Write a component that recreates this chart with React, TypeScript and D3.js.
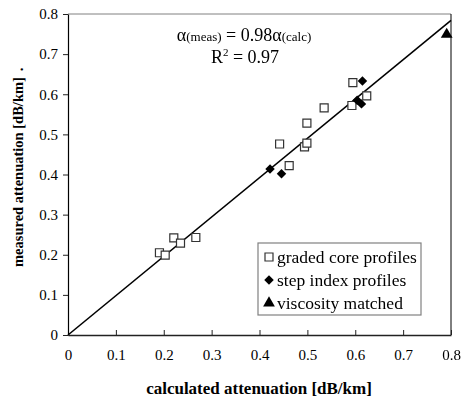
import React, { useEffect, useRef } from "react";
import * as d3 from "d3";

// graded core profiles [calculated, measured]
const gradedX = [0.191, 0.203, 0.221, 0.235, 0.267, 0.442, 0.462, 0.494, 0.499, 0.499, 0.535, 0.595, 0.593, 0.624];
const gradedY = [0.205, 0.199, 0.242, 0.229, 0.243, 0.476, 0.422, 0.469, 0.478, 0.528, 0.566, 0.629, 0.572, 0.596];
// step index profiles
const stepX = [0.422, 0.446, 0.615, 0.604, 0.613];
const stepY = [0.414, 0.402, 0.633, 0.585, 0.576];
// viscosity matched
const viscX = [0.791];
const viscY = [0.749];

const ticks = [0, 0.1, 0.2, 0.3, 0.4, 0.5, 0.6, 0.7, 0.8];
const slope = 0.98;
const legendLabels = ["graded core profiles", "step index profiles", "viscosity matched"];

const W = 461,
  H = 403;
const margin = { left: 68, right: 10, top: 14, bottom: 68 };
const font = '"Liberation Serif", "Times New Roman", serif';

const App = () => {
  const ref = useRef<SVGSVGElement>(null);

  useEffect(() => {
    const svg = d3.select(ref.current);
    svg.selectAll("*").remove();

    const x = d3.scaleLinear().domain([0, 0.8]).range([margin.left, W - margin.right]);
    const y = d3.scaleLinear().domain([0, 0.8]).range([H - margin.bottom, margin.top]);
    const fmt = (d: number) => (d === 0 ? "0" : d3.format(".1f")(d));

    // frame: gray top, black right
    svg
      .append("line")
      .attr("x1", x(0))
      .attr("x2", x(0.8))
      .attr("y1", y(0.8))
      .attr("y2", y(0.8))
      .attr("stroke", "#808080");
    svg
      .append("line")
      .attr("x1", x(0.8))
      .attr("x2", x(0.8))
      .attr("y1", y(0.8))
      .attr("y2", y(0))
      .attr("stroke", "#000");

    const xAxis = svg
      .append("g")
      .attr("transform", `translate(0,${y(0)})`)
      .call(d3.axisBottom(x).tickValues(ticks).tickFormat(fmt as any).tickSizeInner(-5).tickSizeOuter(0).tickPadding(14));
    xAxis.attr("font-family", null);
    xAxis.select(".domain").attr("stroke", "#222").attr("stroke-width", 1.5);
    xAxis.selectAll(".tick line").attr("stroke", "#222");
    xAxis.selectAll(".tick text").style("font-family", font).style("font-size", "15px").attr("fill", "#000");

    const yAxis = svg
      .append("g")
      .attr("transform", `translate(${x(0)},0)`)
      .call(d3.axisLeft(y).tickValues(ticks).tickFormat(fmt as any).tickSizeInner(5).tickSizeOuter(0).tickPadding(5));
    yAxis.attr("font-family", null);
    yAxis.select(".domain").attr("stroke", "#000").attr("stroke-width", 1.2);
    yAxis.selectAll(".tick line").attr("stroke", "#222");
    yAxis.selectAll(".tick text").style("font-family", font).style("font-size", "15px").attr("fill", "#000");

    // fit line
    svg
      .append("line")
      .attr("x1", x(0))
      .attr("y1", y(0))
      .attr("x2", x(0.8))
      .attr("y2", y(0.8 * slope))
      .attr("stroke", "#000")
      .attr("stroke-width", 1.6);

    const sq = d3.symbol().type(d3.symbolSquare).size(64);
    const dia = d3.symbol().type(d3.symbolSquare).size(45);
    const tri = d3.symbol().type(d3.symbolTriangle).size(60);

    svg
      .append("g")
      .selectAll("path")
      .data(d3.range(gradedX.length))
      .enter()
      .append("path")
      .attr("d", sq())
      .attr("transform", (i) => `translate(${x(gradedX[i])},${y(gradedY[i])})`)
      .attr("fill", "#fff")
      .attr("stroke", "#333")
      .attr("stroke-width", 1.2);

    svg
      .append("g")
      .selectAll("path")
      .data(d3.range(stepX.length))
      .enter()
      .append("path")
      .attr("d", dia())
      .attr("transform", (i) => `translate(${x(stepX[i])},${y(stepY[i])}) rotate(45)`)
      .attr("fill", "#000");

    svg
      .append("g")
      .selectAll("path")
      .data(d3.range(viscX.length))
      .enter()
      .append("path")
      .attr("d", tri())
      .attr("transform", (i) => `translate(${x(viscX[i])},${y(viscY[i])})`)
      .attr("fill", "#000");

    const txt = (sel: any) => sel.style("font-family", font);

    // annotation
    const ann = txt(
      svg.append("text").attr("x", 244).attr("y", 41).attr("text-anchor", "middle").style("font-size", "18px")
    );
    ann.append("tspan").text("α");
    ann.append("tspan").style("font-size", "13px").text("(meas)");
    ann.append("tspan").text(" = 0.98α");
    ann.append("tspan").style("font-size", "13px").text("(calc)");

    const r2 = txt(
      svg.append("text").attr("x", 245).attr("y", 63).attr("text-anchor", "middle").style("font-size", "18px")
    );
    r2.append("tspan").text("R");
    r2.append("tspan").style("font-size", "11px").attr("dy", -7).text("2");
    r2.append("tspan").attr("dy", 7).text(" = 0.97");

    // legend
    const lg = svg.append("g").attr("transform", "translate(258,243)");
    lg.append("rect").attr("width", 163).attr("height", 72).attr("fill", "#fff").attr("stroke", "#808080").attr("stroke-width", 1.2);
    const syms = [sq, dia, tri];
    legendLabels.forEach((lab, i) => {
      const cy = 14 + i * 23;
      const p = lg
        .append("path")
        .attr("d", syms[i]())
        .attr("transform", `translate(11,${cy})${i === 1 ? " rotate(45)" : ""}`);
      if (i === 0) p.attr("fill", "#fff").attr("stroke", "#333").attr("stroke-width", 1.2);
      else p.attr("fill", "#000");
      txt(lg.append("text").attr("x", 19).attr("y", cy + 6).style("font-size", "17.5px")).text(lab);
    });

    // axis titles
    txt(
      svg
        .append("text")
        .attr("x", 259)
        .attr("y", 394)
        .attr("text-anchor", "middle")
        .style("font-weight", "bold")
        .style("font-size", "17px")
    ).text("calculated attenuation [dB/km]");
    const yl = txt(
      svg
        .append("text")
        .attr("transform", "translate(23,267) rotate(-90)")
        .attr("text-anchor", "start")
        .style("font-weight", "bold")
        .style("font-size", "14.5px")
    );
    yl.append("tspan").text("measured attenuation [dB/km]");
    yl.append("tspan").attr("dx", 6).text(".");
  }, []);

  return (
    <div style={{ position: "fixed", left: 0, top: 0, width: W, height: H }}>
      <svg ref={ref} width={W} height={H} style={{ display: "block", background: "#fff", overflow: "visible" }} />
    </div>
  );
};

export default App;
